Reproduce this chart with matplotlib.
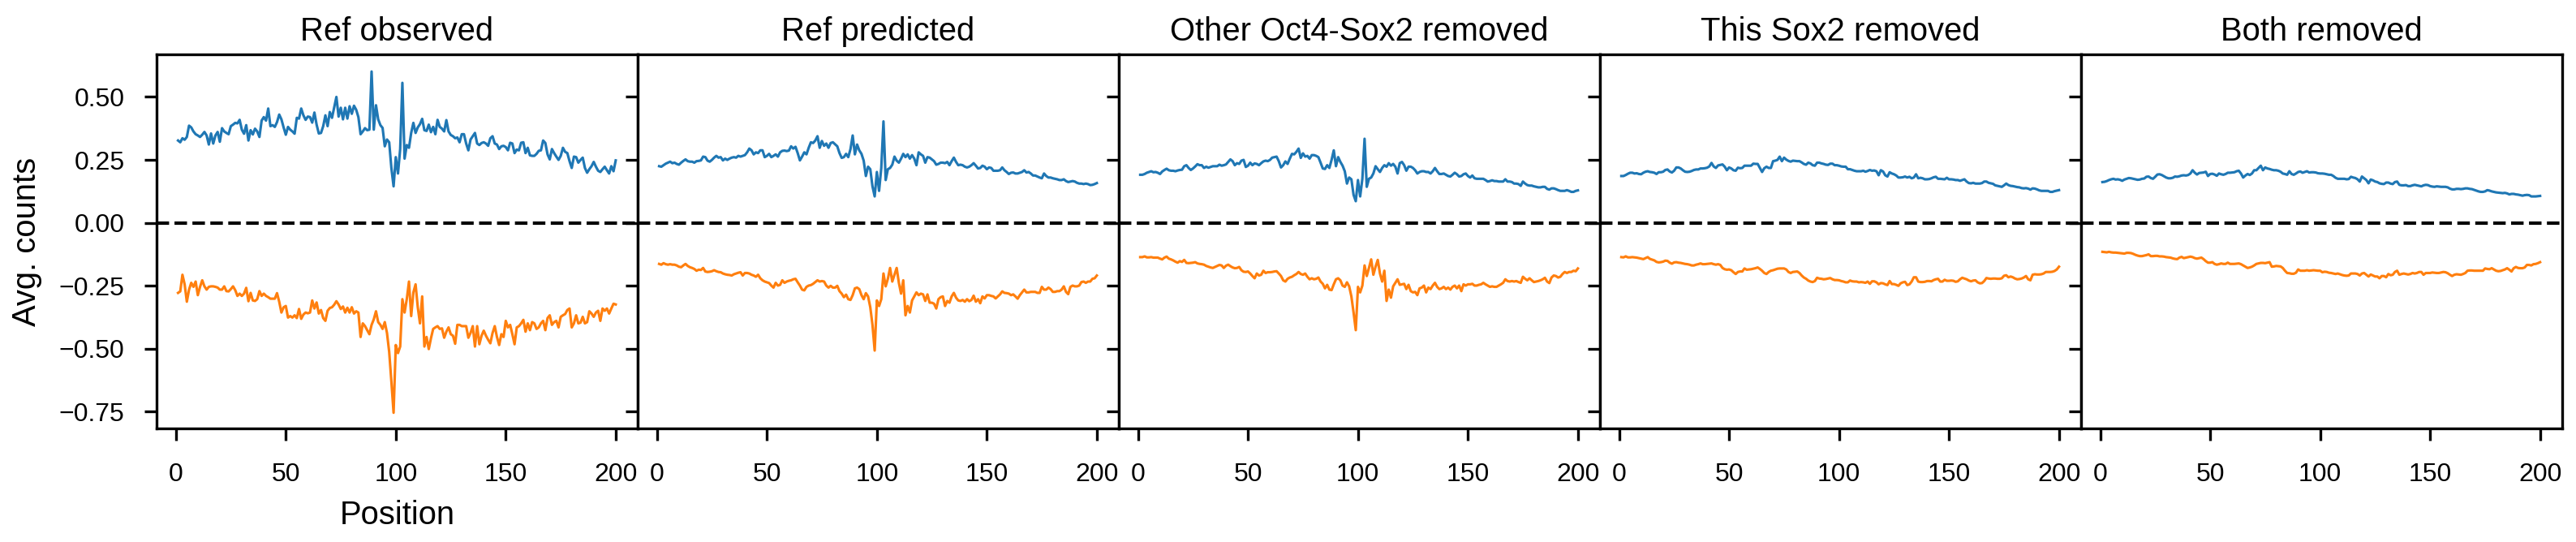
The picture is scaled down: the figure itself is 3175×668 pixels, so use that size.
import numpy as np
import matplotlib.pyplot as plt

plt.rcParams['font.family'] = ['Liberation Sans', 'DejaVu Sans']

# --- DATA (positions 1..200) ---
positions = np.arange(1, 201)

panel_titles = ["Ref observed", "Ref predicted", "Other Oct4-Sox2 removed",
                "This Sox2 removed", "Both removed"]

obs_fwd = [
    0.327, 0.320, 0.336, 0.330, 0.341, 0.386, 0.379, 0.363, 0.352, 0.347,
    0.341, 0.350, 0.361, 0.347, 0.311, 0.355, 0.315, 0.347, 0.361, 0.322,
    0.376, 0.363, 0.357, 0.352, 0.384, 0.390, 0.397, 0.395, 0.409, 0.370,
    0.354, 0.388, 0.327, 0.368, 0.351, 0.374, 0.363, 0.341, 0.406, 0.420,
    0.406, 0.454, 0.384, 0.388, 0.381, 0.400, 0.430, 0.411, 0.379, 0.350,
    0.381, 0.370, 0.363, 0.354, 0.417, 0.414, 0.454, 0.427, 0.409, 0.422,
    0.420, 0.398, 0.438, 0.390, 0.355, 0.357, 0.384, 0.427, 0.384, 0.440,
    0.417, 0.459, 0.500, 0.422, 0.457, 0.411, 0.457, 0.414, 0.463, 0.433,
    0.465, 0.449, 0.420, 0.352, 0.363, 0.376, 0.368, 0.370, 0.601, 0.370,
    0.467, 0.411, 0.388, 0.377, 0.304, 0.331, 0.320, 0.218, 0.145, 0.261,
    0.196, 0.293, 0.556, 0.255, 0.309, 0.298, 0.357, 0.397, 0.357, 0.379,
    0.392, 0.413, 0.368, 0.365, 0.390, 0.360, 0.381, 0.352, 0.409, 0.381,
    0.374, 0.363, 0.408, 0.363, 0.349, 0.344, 0.336, 0.339, 0.320, 0.352,
    0.352, 0.315, 0.288, 0.331, 0.344, 0.357, 0.315, 0.309, 0.317, 0.320,
    0.315, 0.306, 0.336, 0.344, 0.315, 0.311, 0.293, 0.304, 0.306, 0.301,
    0.288, 0.318, 0.315, 0.277, 0.291, 0.288, 0.318, 0.320, 0.277, 0.298,
    0.268, 0.266, 0.266, 0.274, 0.286, 0.288, 0.327, 0.317, 0.272, 0.252,
    0.293, 0.277, 0.263, 0.250, 0.266, 0.298, 0.282, 0.277, 0.245, 0.218,
    0.263, 0.261, 0.239, 0.250, 0.259, 0.218, 0.199, 0.213, 0.225, 0.242,
    0.223, 0.207, 0.202, 0.213, 0.223, 0.209, 0.196, 0.225, 0.205, 0.248,
]
obs_rev = [
    -0.278, -0.272, -0.206, -0.244, -0.313, -0.265, -0.238, -0.254, -0.233, -0.287,
    -0.254, -0.228, -0.252, -0.265, -0.254, -0.252, -0.252, -0.254, -0.257, -0.265,
    -0.265, -0.252, -0.271, -0.272, -0.263, -0.252, -0.267, -0.290, -0.281, -0.290,
    -0.281, -0.258, -0.311, -0.278, -0.308, -0.310, -0.303, -0.271, -0.290, -0.281,
    -0.290, -0.295, -0.301, -0.301, -0.301, -0.279, -0.313, -0.356, -0.335, -0.330,
    -0.376, -0.370, -0.376, -0.367, -0.378, -0.342, -0.381, -0.364, -0.356, -0.359,
    -0.356, -0.308, -0.340, -0.316, -0.360, -0.346, -0.378, -0.389, -0.349, -0.338,
    -0.335, -0.325, -0.311, -0.324, -0.342, -0.332, -0.356, -0.337, -0.356, -0.335,
    -0.360, -0.351, -0.356, -0.453, -0.399, -0.410, -0.426, -0.442, -0.405, -0.383,
    -0.351, -0.394, -0.405, -0.421, -0.394, -0.437, -0.512, -0.630, -0.754, -0.485,
    -0.517, -0.491, -0.303, -0.356, -0.303, -0.233, -0.370, -0.276, -0.244, -0.335,
    -0.399, -0.292, -0.491, -0.453, -0.501, -0.458, -0.421, -0.415, -0.410, -0.421,
    -0.419, -0.456, -0.432, -0.415, -0.442, -0.448, -0.480, -0.405, -0.405, -0.410,
    -0.410, -0.410, -0.456, -0.437, -0.410, -0.491, -0.410, -0.482, -0.448, -0.428,
    -0.448, -0.464, -0.478, -0.437, -0.410, -0.453, -0.485, -0.442, -0.453, -0.389,
    -0.415, -0.405, -0.442, -0.482, -0.415, -0.410, -0.399, -0.385, -0.432, -0.399,
    -0.426, -0.394, -0.399, -0.421, -0.415, -0.399, -0.389, -0.426, -0.378, -0.367,
    -0.405, -0.394, -0.389, -0.415, -0.373, -0.367, -0.362, -0.346, -0.340, -0.415,
    -0.399, -0.367, -0.399, -0.396, -0.373, -0.399, -0.394, -0.351, -0.360, -0.373,
    -0.356, -0.349, -0.389, -0.340, -0.349, -0.340, -0.360, -0.340, -0.321, -0.324,
]

pred_fwd = [
    0.225, 0.223, 0.229, 0.235, 0.239, 0.243, 0.237, 0.239, 0.234, 0.231,
    0.239, 0.246, 0.252, 0.245, 0.243, 0.243, 0.239, 0.245, 0.246, 0.248,
    0.263, 0.261, 0.247, 0.243, 0.250, 0.259, 0.266, 0.259, 0.261, 0.248,
    0.255, 0.250, 0.255, 0.259, 0.261, 0.259, 0.266, 0.263, 0.266, 0.269,
    0.280, 0.295, 0.288, 0.272, 0.280, 0.277, 0.288, 0.288, 0.261, 0.266,
    0.274, 0.261, 0.266, 0.272, 0.263, 0.280, 0.286, 0.287, 0.285, 0.287,
    0.304, 0.295, 0.302, 0.277, 0.248, 0.263, 0.280, 0.272, 0.298, 0.320,
    0.317, 0.327, 0.344, 0.298, 0.325, 0.306, 0.315, 0.298, 0.317, 0.320,
    0.312, 0.304, 0.277, 0.258, 0.261, 0.274, 0.261, 0.293, 0.347, 0.272,
    0.311, 0.288, 0.274, 0.247, 0.186, 0.223, 0.213, 0.145, 0.105, 0.202,
    0.127, 0.218, 0.403, 0.170, 0.213, 0.218, 0.231, 0.263, 0.247, 0.239,
    0.255, 0.274, 0.261, 0.272, 0.255, 0.269, 0.255, 0.229, 0.280, 0.272,
    0.266, 0.239, 0.261, 0.259, 0.252, 0.245, 0.231, 0.234, 0.239, 0.239,
    0.237, 0.242, 0.229, 0.245, 0.259, 0.242, 0.229, 0.231, 0.229, 0.223,
    0.220, 0.223, 0.229, 0.237, 0.227, 0.216, 0.218, 0.227, 0.223, 0.213,
    0.220, 0.218, 0.207, 0.207, 0.207, 0.209, 0.220, 0.209, 0.202, 0.194,
    0.199, 0.200, 0.196, 0.196, 0.199, 0.202, 0.209, 0.200, 0.202, 0.196,
    0.188, 0.188, 0.184, 0.180, 0.177, 0.196, 0.186, 0.180, 0.180, 0.177,
    0.175, 0.173, 0.170, 0.170, 0.173, 0.166, 0.162, 0.164, 0.166, 0.164,
    0.159, 0.156, 0.156, 0.154, 0.156, 0.154, 0.150, 0.151, 0.154, 0.158,
]
pred_rev = [
    -0.163, -0.166, -0.160, -0.164, -0.166, -0.164, -0.166, -0.166, -0.169, -0.174,
    -0.176, -0.169, -0.163, -0.171, -0.176, -0.179, -0.183, -0.190, -0.186, -0.187,
    -0.179, -0.193, -0.195, -0.194, -0.192, -0.188, -0.192, -0.195, -0.196, -0.201,
    -0.204, -0.206, -0.207, -0.209, -0.204, -0.201, -0.198, -0.196, -0.209, -0.199,
    -0.199, -0.201, -0.206, -0.209, -0.214, -0.206, -0.220, -0.228, -0.233, -0.236,
    -0.239, -0.249, -0.257, -0.238, -0.249, -0.246, -0.228, -0.238, -0.233, -0.230,
    -0.228, -0.224, -0.222, -0.236, -0.249, -0.265, -0.268, -0.254, -0.249, -0.247,
    -0.242, -0.235, -0.228, -0.233, -0.231, -0.233, -0.249, -0.257, -0.250, -0.257,
    -0.257, -0.250, -0.271, -0.281, -0.295, -0.285, -0.303, -0.306, -0.287, -0.260,
    -0.257, -0.263, -0.287, -0.303, -0.279, -0.292, -0.335, -0.405, -0.507, -0.308,
    -0.330, -0.303, -0.201, -0.252, -0.222, -0.179, -0.233, -0.206, -0.179, -0.238,
    -0.281, -0.228, -0.367, -0.330, -0.356, -0.308, -0.292, -0.276, -0.287, -0.281,
    -0.284, -0.310, -0.284, -0.317, -0.317, -0.321, -0.340, -0.303, -0.295, -0.292,
    -0.330, -0.310, -0.317, -0.292, -0.278, -0.297, -0.308, -0.310, -0.306, -0.313,
    -0.303, -0.311, -0.306, -0.289, -0.313, -0.303, -0.319, -0.292, -0.300, -0.287,
    -0.287, -0.290, -0.292, -0.300, -0.292, -0.284, -0.272, -0.278, -0.279, -0.281,
    -0.287, -0.284, -0.292, -0.301, -0.287, -0.276, -0.265, -0.276, -0.276, -0.274,
    -0.274, -0.274, -0.278, -0.278, -0.254, -0.265, -0.265, -0.257, -0.263, -0.274,
    -0.274, -0.271, -0.271, -0.265, -0.252, -0.274, -0.283, -0.254, -0.249, -0.252,
    -0.252, -0.249, -0.235, -0.233, -0.238, -0.233, -0.233, -0.222, -0.220, -0.209,
]

other_fwd = [
    0.191, 0.191, 0.194, 0.199, 0.202, 0.205, 0.201, 0.202, 0.199, 0.194,
    0.204, 0.210, 0.215, 0.209, 0.207, 0.207, 0.205, 0.208, 0.210, 0.211,
    0.225, 0.229, 0.218, 0.210, 0.216, 0.224, 0.233, 0.229, 0.229, 0.218,
    0.223, 0.219, 0.222, 0.225, 0.225, 0.225, 0.231, 0.227, 0.229, 0.232,
    0.242, 0.252, 0.245, 0.229, 0.237, 0.234, 0.247, 0.250, 0.222, 0.227,
    0.239, 0.229, 0.236, 0.234, 0.229, 0.237, 0.244, 0.247, 0.245, 0.250,
    0.259, 0.261, 0.263, 0.245, 0.220, 0.229, 0.244, 0.234, 0.255, 0.274,
    0.272, 0.282, 0.295, 0.258, 0.276, 0.263, 0.266, 0.255, 0.269, 0.269,
    0.266, 0.261, 0.239, 0.216, 0.214, 0.229, 0.218, 0.250, 0.288, 0.225,
    0.261, 0.242, 0.227, 0.205, 0.156, 0.180, 0.173, 0.111, 0.086, 0.170,
    0.105, 0.175, 0.334, 0.143, 0.175, 0.180, 0.196, 0.225, 0.213, 0.202,
    0.218, 0.229, 0.223, 0.237, 0.227, 0.234, 0.223, 0.196, 0.237, 0.242,
    0.229, 0.207, 0.223, 0.223, 0.218, 0.209, 0.196, 0.202, 0.205, 0.205,
    0.202, 0.202, 0.196, 0.205, 0.218, 0.205, 0.194, 0.194, 0.196, 0.191,
    0.186, 0.184, 0.191, 0.199, 0.193, 0.184, 0.186, 0.193, 0.196, 0.186,
    0.180, 0.188, 0.177, 0.175, 0.175, 0.175, 0.175, 0.170, 0.164, 0.166,
    0.169, 0.166, 0.166, 0.164, 0.164, 0.164, 0.173, 0.164, 0.164, 0.162,
    0.156, 0.156, 0.154, 0.147, 0.164, 0.156, 0.150, 0.148, 0.148, 0.145,
    0.143, 0.141, 0.141, 0.143, 0.143, 0.135, 0.132, 0.137, 0.137, 0.134,
    0.130, 0.127, 0.127, 0.127, 0.130, 0.127, 0.123, 0.123, 0.127, 0.129,
]
other_rev = [
    -0.136, -0.136, -0.133, -0.137, -0.137, -0.136, -0.138, -0.138, -0.138, -0.142,
    -0.145, -0.138, -0.134, -0.142, -0.145, -0.149, -0.154, -0.158, -0.152, -0.155,
    -0.147, -0.159, -0.160, -0.159, -0.158, -0.156, -0.161, -0.163, -0.164, -0.166,
    -0.171, -0.174, -0.177, -0.179, -0.175, -0.171, -0.167, -0.169, -0.179, -0.170,
    -0.166, -0.172, -0.177, -0.180, -0.179, -0.175, -0.188, -0.194, -0.195, -0.193,
    -0.201, -0.211, -0.220, -0.201, -0.209, -0.206, -0.190, -0.199, -0.196, -0.196,
    -0.195, -0.193, -0.192, -0.201, -0.211, -0.228, -0.233, -0.222, -0.217, -0.214,
    -0.208, -0.203, -0.195, -0.203, -0.206, -0.201, -0.214, -0.224, -0.220, -0.224,
    -0.222, -0.217, -0.233, -0.242, -0.260, -0.246, -0.265, -0.267, -0.244, -0.224,
    -0.220, -0.228, -0.249, -0.254, -0.236, -0.252, -0.292, -0.356, -0.426, -0.254,
    -0.276, -0.249, -0.169, -0.211, -0.179, -0.145, -0.206, -0.174, -0.147, -0.201,
    -0.233, -0.190, -0.310, -0.265, -0.297, -0.252, -0.238, -0.224, -0.246, -0.244,
    -0.242, -0.263, -0.246, -0.271, -0.276, -0.274, -0.287, -0.260, -0.257, -0.249,
    -0.276, -0.257, -0.263, -0.249, -0.238, -0.254, -0.263, -0.260, -0.254, -0.263,
    -0.257, -0.265, -0.254, -0.249, -0.260, -0.249, -0.271, -0.244, -0.249, -0.244,
    -0.244, -0.242, -0.249, -0.249, -0.246, -0.244, -0.238, -0.244, -0.249, -0.254,
    -0.252, -0.254, -0.254, -0.249, -0.244, -0.238, -0.224, -0.231, -0.233, -0.231,
    -0.233, -0.231, -0.235, -0.238, -0.214, -0.222, -0.228, -0.220, -0.228, -0.235,
    -0.233, -0.231, -0.228, -0.224, -0.218, -0.233, -0.239, -0.217, -0.209, -0.211,
    -0.217, -0.214, -0.203, -0.195, -0.199, -0.195, -0.195, -0.190, -0.192, -0.181,
]

sox_fwd = [
    0.186, 0.186, 0.190, 0.195, 0.199, 0.199, 0.196, 0.197, 0.194, 0.193,
    0.199, 0.203, 0.205, 0.202, 0.201, 0.199, 0.194, 0.201, 0.201, 0.203,
    0.210, 0.212, 0.204, 0.200, 0.207, 0.220, 0.220, 0.216, 0.209, 0.203,
    0.202, 0.203, 0.206, 0.210, 0.212, 0.212, 0.216, 0.216, 0.217, 0.219,
    0.224, 0.238, 0.224, 0.218, 0.228, 0.230, 0.232, 0.223, 0.209, 0.220,
    0.216, 0.209, 0.207, 0.219, 0.217, 0.218, 0.227, 0.227, 0.227, 0.227,
    0.235, 0.234, 0.234, 0.218, 0.202, 0.217, 0.223, 0.218, 0.218, 0.245,
    0.247, 0.250, 0.263, 0.245, 0.259, 0.251, 0.246, 0.243, 0.247, 0.246,
    0.245, 0.245, 0.240, 0.234, 0.231, 0.239, 0.236, 0.229, 0.227, 0.239,
    0.239, 0.236, 0.234, 0.231, 0.230, 0.235, 0.235, 0.229, 0.229, 0.227,
    0.224, 0.223, 0.223, 0.213, 0.213, 0.210, 0.207, 0.205, 0.205, 0.205,
    0.207, 0.203, 0.206, 0.210, 0.207, 0.208, 0.205, 0.189, 0.209, 0.204,
    0.189, 0.184, 0.201, 0.196, 0.193, 0.188, 0.180, 0.180, 0.181, 0.184,
    0.180, 0.183, 0.177, 0.180, 0.193, 0.177, 0.179, 0.177, 0.173, 0.173,
    0.174, 0.177, 0.181, 0.183, 0.175, 0.175, 0.174, 0.173, 0.179, 0.173,
    0.173, 0.172, 0.170, 0.170, 0.167, 0.170, 0.173, 0.164, 0.158, 0.157,
    0.159, 0.156, 0.156, 0.156, 0.158, 0.164, 0.164, 0.159, 0.157, 0.155,
    0.149, 0.147, 0.145, 0.143, 0.149, 0.156, 0.150, 0.147, 0.146, 0.144,
    0.142, 0.141, 0.138, 0.137, 0.138, 0.136, 0.132, 0.137, 0.136, 0.133,
    0.129, 0.127, 0.127, 0.127, 0.127, 0.123, 0.123, 0.126, 0.128, 0.130,
]
sox_rev = [
    -0.136, -0.137, -0.133, -0.137, -0.137, -0.136, -0.137, -0.138, -0.140, -0.142,
    -0.144, -0.140, -0.136, -0.143, -0.146, -0.149, -0.155, -0.157, -0.156, -0.154,
    -0.150, -0.151, -0.158, -0.162, -0.157, -0.156, -0.158, -0.159, -0.161, -0.163,
    -0.164, -0.166, -0.169, -0.169, -0.166, -0.164, -0.161, -0.164, -0.164, -0.163,
    -0.162, -0.161, -0.164, -0.166, -0.164, -0.167, -0.179, -0.184, -0.186, -0.185,
    -0.188, -0.196, -0.203, -0.195, -0.193, -0.193, -0.181, -0.186, -0.185, -0.184,
    -0.182, -0.180, -0.177, -0.183, -0.190, -0.199, -0.203, -0.195, -0.190, -0.188,
    -0.185, -0.182, -0.181, -0.181, -0.181, -0.185, -0.195, -0.199, -0.195, -0.194,
    -0.193, -0.199, -0.209, -0.217, -0.222, -0.229, -0.233, -0.235, -0.231, -0.218,
    -0.221, -0.222, -0.224, -0.223, -0.221, -0.219, -0.224, -0.227, -0.227, -0.228,
    -0.231, -0.233, -0.236, -0.236, -0.229, -0.232, -0.233, -0.233, -0.236, -0.235,
    -0.236, -0.238, -0.233, -0.242, -0.232, -0.232, -0.236, -0.244, -0.239, -0.240,
    -0.244, -0.247, -0.231, -0.243, -0.243, -0.246, -0.250, -0.240, -0.236, -0.234,
    -0.247, -0.244, -0.233, -0.216, -0.216, -0.233, -0.235, -0.235, -0.234, -0.231,
    -0.231, -0.232, -0.227, -0.224, -0.222, -0.233, -0.233, -0.226, -0.230, -0.230,
    -0.229, -0.230, -0.234, -0.232, -0.224, -0.218, -0.221, -0.224, -0.229, -0.232,
    -0.229, -0.228, -0.236, -0.240, -0.239, -0.231, -0.219, -0.221, -0.222, -0.221,
    -0.221, -0.222, -0.222, -0.220, -0.210, -0.208, -0.216, -0.213, -0.216, -0.221,
    -0.224, -0.223, -0.221, -0.217, -0.211, -0.224, -0.228, -0.206, -0.204, -0.205,
    -0.205, -0.204, -0.201, -0.195, -0.195, -0.195, -0.194, -0.191, -0.185, -0.174,
]

both_fwd = [
    0.162, 0.163, 0.166, 0.170, 0.173, 0.175, 0.172, 0.173, 0.171, 0.167,
    0.172, 0.175, 0.178, 0.177, 0.175, 0.173, 0.171, 0.172, 0.175, 0.176,
    0.183, 0.184, 0.178, 0.175, 0.183, 0.192, 0.193, 0.190, 0.185, 0.180,
    0.177, 0.177, 0.179, 0.184, 0.183, 0.185, 0.188, 0.189, 0.188, 0.190,
    0.196, 0.209, 0.199, 0.192, 0.198, 0.199, 0.200, 0.203, 0.186, 0.194,
    0.195, 0.192, 0.187, 0.196, 0.193, 0.191, 0.194, 0.199, 0.199, 0.200,
    0.201, 0.205, 0.207, 0.196, 0.180, 0.188, 0.194, 0.190, 0.196, 0.209,
    0.209, 0.218, 0.227, 0.209, 0.220, 0.216, 0.214, 0.211, 0.209, 0.209,
    0.207, 0.203, 0.196, 0.194, 0.191, 0.205, 0.194, 0.191, 0.196, 0.202,
    0.204, 0.199, 0.202, 0.205, 0.200, 0.201, 0.201, 0.200, 0.197, 0.196,
    0.196, 0.195, 0.193, 0.191, 0.191, 0.186, 0.179, 0.175, 0.175, 0.175,
    0.175, 0.173, 0.174, 0.183, 0.180, 0.178, 0.173, 0.164, 0.184, 0.177,
    0.170, 0.157, 0.172, 0.169, 0.164, 0.162, 0.157, 0.155, 0.154, 0.160,
    0.160, 0.156, 0.154, 0.162, 0.164, 0.151, 0.149, 0.149, 0.150, 0.146,
    0.146, 0.149, 0.151, 0.149, 0.147, 0.145, 0.149, 0.151, 0.150, 0.146,
    0.144, 0.143, 0.145, 0.144, 0.143, 0.143, 0.143, 0.141, 0.136, 0.133,
    0.133, 0.135, 0.135, 0.134, 0.135, 0.137, 0.137, 0.135, 0.134, 0.131,
    0.128, 0.125, 0.123, 0.123, 0.125, 0.130, 0.128, 0.125, 0.123, 0.121,
    0.120, 0.119, 0.118, 0.119, 0.117, 0.113, 0.115, 0.115, 0.113, 0.112,
    0.110, 0.108, 0.110, 0.111, 0.110, 0.105, 0.105, 0.105, 0.106, 0.107,
]
both_rev = [
    -0.115, -0.116, -0.117, -0.115, -0.117, -0.118, -0.118, -0.119, -0.120, -0.121,
    -0.122, -0.119, -0.119, -0.120, -0.123, -0.127, -0.130, -0.132, -0.132, -0.130,
    -0.128, -0.125, -0.132, -0.132, -0.131, -0.131, -0.133, -0.133, -0.134, -0.136,
    -0.137, -0.138, -0.141, -0.143, -0.144, -0.138, -0.135, -0.140, -0.138, -0.136,
    -0.134, -0.136, -0.140, -0.142, -0.140, -0.138, -0.144, -0.152, -0.158, -0.158,
    -0.156, -0.163, -0.166, -0.164, -0.161, -0.163, -0.163, -0.158, -0.163, -0.163,
    -0.163, -0.162, -0.161, -0.164, -0.169, -0.174, -0.179, -0.177, -0.174, -0.169,
    -0.163, -0.161, -0.159, -0.159, -0.160, -0.158, -0.156, -0.174, -0.173, -0.171,
    -0.172, -0.173, -0.179, -0.190, -0.199, -0.200, -0.202, -0.202, -0.198, -0.185,
    -0.190, -0.190, -0.190, -0.188, -0.190, -0.189, -0.188, -0.189, -0.190, -0.190,
    -0.196, -0.194, -0.195, -0.198, -0.199, -0.201, -0.203, -0.201, -0.204, -0.207,
    -0.209, -0.210, -0.209, -0.201, -0.201, -0.201, -0.203, -0.209, -0.201, -0.199,
    -0.206, -0.213, -0.205, -0.209, -0.213, -0.213, -0.220, -0.211, -0.211, -0.216,
    -0.203, -0.208, -0.206, -0.195, -0.190, -0.206, -0.203, -0.201, -0.203, -0.205,
    -0.203, -0.199, -0.201, -0.199, -0.195, -0.195, -0.206, -0.199, -0.199, -0.199,
    -0.197, -0.198, -0.199, -0.199, -0.197, -0.195, -0.196, -0.200, -0.206, -0.211,
    -0.206, -0.204, -0.205, -0.206, -0.203, -0.199, -0.190, -0.189, -0.189, -0.190,
    -0.190, -0.190, -0.190, -0.190, -0.181, -0.183, -0.184, -0.180, -0.185, -0.190,
    -0.192, -0.191, -0.188, -0.185, -0.180, -0.186, -0.193, -0.180, -0.175, -0.179,
    -0.180, -0.180, -0.177, -0.167, -0.167, -0.169, -0.164, -0.163, -0.160, -0.156,
]

fwd_series = [obs_fwd, pred_fwd, other_fwd, sox_fwd, both_fwd]
rev_series = [obs_rev, pred_rev, other_rev, sox_rev, both_rev]

# --- FIGURE ---
fig, axes = plt.subplots(1, 5, figsize=(3175 / 300, 668 / 300), dpi=300, sharey=True)
fig.subplots_adjust(left=0.0608, right=0.9946, bottom=0.2096, top=0.8997, wspace=0)

for ax, title, fwd, rev in zip(axes, panel_titles, fwd_series, rev_series):
    ax.plot(positions, fwd, color='#1f77b4', lw=0.75)
    ax.plot(positions, rev, color='#ff7f0e', lw=0.75)
    ax.axhline(0, color='black', ls='--', lw=1)
    ax.set_title(title, fontsize=9.6, pad=4)
    ax.set_xticks([0, 50, 100, 150, 200])
    ax.set_xlim(-8.74, 210.0)
    ax.tick_params(axis='x', labelsize=7.7, pad=6.5)
    ax.tick_params(axis='y', labelsize=7.7, pad=6)

axes[0].set_ylim(-0.816, 0.669)
axes[0].set_yticks([-0.75, -0.5, -0.25, 0.0, 0.25, 0.5])
axes[0].set_ylabel("Avg. counts", fontsize=9.6, labelpad=5)
axes[0].set_xlabel("Position", fontsize=9.6)

fig.savefig("out.png", dpi=300)
